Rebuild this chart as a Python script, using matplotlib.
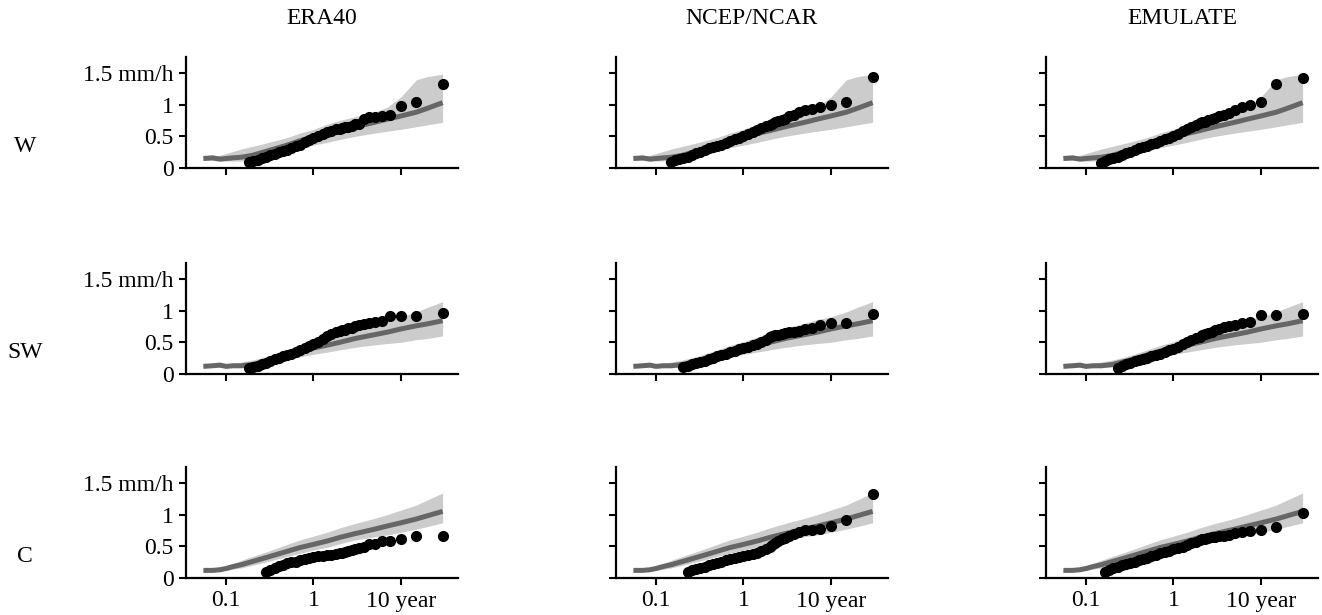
import matplotlib
matplotlib.use("Agg")
import matplotlib.pyplot as plt

plt.rcParams["font.family"] = ["Liberation Serif", "DejaVu Serif"]
plt.rcParams["font.size"] = 17

columns = ["ERA40", "NCEP/NCAR", "EMULATE"]
rows = ["W", "SW", "C"]

# return periods (years) for the simulated median line and band
t_line = [0.055, 0.07, 0.085, 0.1, 0.12, 0.15, 0.2, 0.3, 0.5, 0.7, 1, 1.5, 2, 3, 5, 7, 10, 15, 20, 30]

w_med = [0.15, 0.16, 0.14, 0.15, 0.16, 0.17, 0.2, 0.27, 0.36, 0.43, 0.49, 0.55, 0.59, 0.65, 0.72, 0.77, 0.82, 0.88, 0.94, 1.03]
w_hi = [0.18, 0.19, 0.2, 0.23, 0.26, 0.3, 0.34, 0.4, 0.48, 0.55, 0.61, 0.7, 0.75, 0.81, 0.88, 0.96, 1.12, 1.39, 1.44, 1.48]
w_lo = [0.12, 0.12, 0.11, 0.11, 0.11, 0.11, 0.13, 0.18, 0.26, 0.32, 0.36, 0.41, 0.45, 0.5, 0.55, 0.58, 0.61, 0.65, 0.68, 0.72]

sw_med = [0.12, 0.13, 0.14, 0.12, 0.13, 0.13, 0.15, 0.21, 0.3, 0.36, 0.41, 0.46, 0.5, 0.56, 0.62, 0.66, 0.71, 0.76, 0.79, 0.84]
sw_hi = [0.14, 0.15, 0.16, 0.16, 0.17, 0.19, 0.22, 0.28, 0.38, 0.45, 0.51, 0.59, 0.65, 0.72, 0.8, 0.86, 0.9, 0.98, 1.05, 1.14]
sw_lo = [0.1, 0.11, 0.11, 0.1, 0.1, 0.1, 0.11, 0.15, 0.22, 0.27, 0.31, 0.35, 0.38, 0.42, 0.46, 0.48, 0.5, 0.54, 0.56, 0.6]

c_med = [0.12, 0.12, 0.13, 0.15, 0.18, 0.21, 0.26, 0.33, 0.42, 0.48, 0.53, 0.59, 0.64, 0.7, 0.77, 0.82, 0.87, 0.93, 0.98, 1.05]
c_hi = [0.13, 0.14, 0.16, 0.19, 0.23, 0.28, 0.34, 0.42, 0.53, 0.6, 0.66, 0.73, 0.79, 0.86, 0.94, 1.0, 1.07, 1.15, 1.23, 1.34]
c_lo = [0.11, 0.11, 0.11, 0.12, 0.14, 0.16, 0.2, 0.26, 0.34, 0.39, 0.44, 0.49, 0.54, 0.6, 0.65, 0.68, 0.72, 0.77, 0.81, 0.87]

# return periods of the observed events (largest first)
t_obs = [30, 15, 10, 7.5, 6, 5, 4.3, 3.75, 3.33, 3.0, 2.73, 2.5, 2.3, 2.14, 2.0, 1.8, 1.6, 1.43, 1.27, 1.13,
         1.0, 0.9, 0.8, 0.71, 0.63, 0.56, 0.5, 0.45, 0.4, 0.36, 0.32, 0.285, 0.255, 0.23, 0.205, 0.185, 0.165, 0.148]

w_era40 = [1.33, 1.04, 0.98, 0.84, 0.82, 0.81, 0.80, 0.78, 0.70, 0.69, 0.66, 0.65, 0.64, 0.63, 0.62, 0.61, 0.59, 0.57, 0.54, 0.50,
           0.47, 0.44, 0.41, 0.37, 0.34, 0.31, 0.29, 0.27, 0.25, 0.22, 0.2, 0.17, 0.15, 0.13, 0.11, 0.09]
w_ncep = [1.43, 1.04, 0.99, 0.96, 0.93, 0.91, 0.88, 0.84, 0.82, 0.78, 0.76, 0.74, 0.72, 0.70, 0.68, 0.66, 0.63, 0.60, 0.57, 0.54,
          0.51, 0.48, 0.45, 0.43, 0.40, 0.37, 0.35, 0.33, 0.31, 0.29, 0.26, 0.23, 0.2, 0.18, 0.16, 0.14, 0.12, 0.09]
w_emulate = [1.42, 1.32, 1.04, 1.0, 0.96, 0.92, 0.87, 0.84, 0.82, 0.79, 0.77, 0.75, 0.73, 0.72, 0.71, 0.68, 0.65, 0.62, 0.58, 0.54,
             0.5, 0.48, 0.45, 0.42, 0.4, 0.38, 0.35, 0.33, 0.31, 0.29, 0.26, 0.23, 0.21, 0.18, 0.16, 0.14, 0.11, 0.08]

sw_era40 = [0.96, 0.92, 0.92, 0.92, 0.83, 0.82, 0.80, 0.79, 0.77, 0.75, 0.73, 0.72, 0.70, 0.69, 0.68, 0.66, 0.63, 0.60, 0.55, 0.50,
            0.47, 0.44, 0.41, 0.38, 0.35, 0.32, 0.30, 0.28, 0.25, 0.23, 0.20, 0.18, 0.15, 0.13, 0.11, 0.09]
sw_ncep = [0.94, 0.81, 0.80, 0.77, 0.72, 0.71, 0.68, 0.67, 0.66, 0.64, 0.63, 0.62, 0.61, 0.6, 0.58, 0.54, 0.51, 0.48, 0.45, 0.43,
           0.41, 0.39, 0.36, 0.34, 0.32, 0.3, 0.28, 0.26, 0.23, 0.21, 0.19, 0.17, 0.15, 0.13, 0.11]
sw_emulate = [0.94, 0.93, 0.93, 0.82, 0.80, 0.78, 0.76, 0.74, 0.71, 0.69, 0.67, 0.65, 0.63, 0.61, 0.59, 0.56, 0.53, 0.5, 0.47, 0.43,
              0.4, 0.38, 0.35, 0.32, 0.3, 0.28, 0.26, 0.24, 0.22, 0.2, 0.17, 0.15, 0.12, 0.09]

c_era40 = [0.67, 0.66, 0.61, 0.59, 0.59, 0.53, 0.53, 0.49, 0.47, 0.46, 0.44, 0.42, 0.41, 0.40, 0.39, 0.38, 0.37, 0.36, 0.35, 0.34,
           0.33, 0.32, 0.30, 0.29, 0.26, 0.25, 0.23, 0.21, 0.19, 0.16, 0.13, 0.10]
c_ncep = [1.32, 0.92, 0.82, 0.78, 0.76, 0.75, 0.72, 0.70, 0.67, 0.63, 0.61, 0.58, 0.55, 0.52, 0.49, 0.45, 0.42, 0.4, 0.38, 0.36,
          0.34, 0.33, 0.31, 0.3, 0.28, 0.26, 0.24, 0.22, 0.2, 0.18, 0.16, 0.14, 0.12, 0.09]
c_emulate = [1.03, 0.80, 0.75, 0.74, 0.73, 0.71, 0.68, 0.67, 0.66, 0.65, 0.64, 0.63, 0.62, 0.61, 0.6, 0.57, 0.55, 0.52, 0.49, 0.47,
             0.45, 0.43, 0.41, 0.39, 0.36, 0.34, 0.32, 0.3, 0.28, 0.26, 0.24, 0.22, 0.2, 0.17, 0.15, 0.12, 0.09]

x_ticks = [0.1, 1, 10]
x_ticklabels = ["0.1", "1", "10 year"]
y_ticks = [0, 0.5, 1, 1.5]
y_ticklabels = ["0", "0.5", "1", "1.5 mm/h"]

bands = [(w_med, w_lo, w_hi), (sw_med, sw_lo, sw_hi), (c_med, c_lo, c_hi)]
obs = [[w_era40, w_ncep, w_emulate], [sw_era40, sw_ncep, sw_emulate], [c_era40, c_ncep, c_emulate]]

W, H = 1322, 615
fig = plt.figure(figsize=(W / 100, H / 100), dpi=100)

col_left = [186, 616, 1046]
row_bottom = [168, 374, 578]
ax_w, ax_h = 272, 111

for r in range(3):
    med, lo, hi = bands[r]
    for c in range(3):
        ax = fig.add_axes([col_left[c] / W, 1 - row_bottom[r] / H, ax_w / W, ax_h / H])
        ax.fill_between(t_line, lo, hi, color="#cccccc", lw=0, zorder=1)
        ax.plot(t_line, med, color="#666666", lw=3.6, solid_capstyle="butt", zorder=2)
        vals = obs[r][c]
        ax.plot(t_obs[:len(vals)], vals, "o", color="black", ms=7, mec="black", zorder=3)
        ax.set_xscale("log")
        ax.set_xlim(0.0348, 45)
        ax.set_ylim(0, 1.75)
        ax.minorticks_off()
        ax.set_xticks(x_ticks)
        ax.set_yticks(y_ticks)
        if r == 2:
            ax.set_xticklabels(x_ticklabels)
        else:
            ax.set_xticklabels([])
        if c == 0:
            ax.set_yticklabels(y_ticklabels)
        else:
            ax.set_yticklabels([])
        for side in ["top", "right"]:
            ax.spines[side].set_visible(False)
        for side in ["left", "bottom"]:
            ax.spines[side].set_linewidth(1.6)
        ax.tick_params(direction="out", length=5, width=1.5, pad=4)
        ax.patch.set_alpha(0)

for c, name in enumerate(columns):
    fig.text((col_left[c] + ax_w / 2) / W, 1 - 18 / H, name, ha="center", va="center")

for r, name in enumerate(rows):
    fig.text(25 / W, 1 - (row_bottom[r] - 21) / H, name, ha="center", va="center")

fig.savefig("out.png", dpi=100)
